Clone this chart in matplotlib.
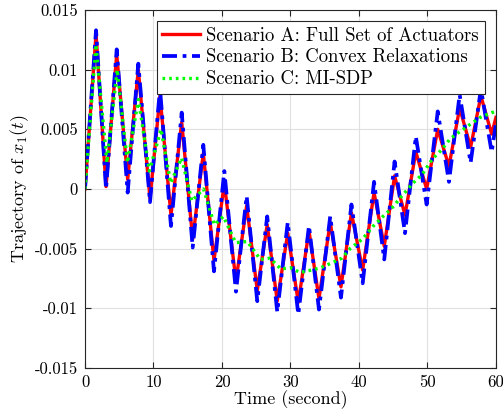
import matplotlib
matplotlib.use("Agg")
import matplotlib.pyplot as plt
import numpy as np

plt.rcParams['font.family'] = ['cmr10', 'DejaVu Serif']
plt.rcParams['mathtext.fontset'] = 'cm'
plt.rcParams['axes.unicode_minus'] = False
plt.rcParams['axes.formatter.use_mathtext'] = True

# ---- data ----
peak_t = [1.61, 4.63, 7.78, 10.95, 14.12, 17.27, 20.34, 23.6, 26.6, 29.6,
          32.7, 35.8, 38.9, 42.2, 45.2, 48.3, 51.5, 54.7, 57.8]
trough_t = [3.07, 6.23, 9.49, 12.55, 15.72, 18.83, 22.04, 25.15, 28.07, 31.14,
            34.16, 37.37, 40.54, 43.69, 46.72, 49.88, 53.14, 56.3, 59.37]

red_peaks = [0.0130, 0.0113, 0.0100, 0.0078, 0.0056, 0.0030, 0.0005, -0.0014, -0.0030, -0.0037,
             -0.0035, -0.0028, -0.0020, -0.0003, 0.0011, 0.0031, 0.0050, 0.0068, 0.0078]
red_troughs = [0.0002, 0.0008, -0.0008, -0.0022, -0.0042, -0.0060, -0.0077, -0.0085, -0.0094, -0.0095,
               -0.0092, -0.0082, -0.0068, -0.0048, -0.0022, 0.0000, 0.0019, 0.0035, 0.0046]
red_start, red_end = 0.0, 0.0060

blue_peaks = [0.0133, 0.0117, 0.0105, 0.0084, 0.0064, 0.0037, 0.0015, -0.0006, -0.0023, -0.0028,
              -0.0031, -0.0023, -0.0013, 0.0006, 0.0023, 0.0044, 0.0065, 0.0079, 0.0084]
blue_troughs = [0.0000, -0.0003, -0.0011, -0.0031, -0.0049, -0.0069, -0.0086, -0.0094, -0.0103, -0.0105,
                -0.0101, -0.0091, -0.0079, -0.0059, -0.0037, -0.0013, 0.0006, 0.0022, 0.0031]
blue_start, blue_end = 0.0, 0.0055

green_t = [0, 1.6, 3.2, 4.7, 6.2, 7.8, 9.4, 11.1, 12.5, 14.1, 15.6, 17.3, 18.9, 20.2, 22.0,
           23.7, 25.6, 27.0, 28.6, 30.0, 31.4, 33.0, 34.4, 36.0, 37.5, 38.7, 40.5, 42.1,
           43.5, 44.8, 46.4, 47.9, 49.2, 50.7, 52.1, 53.3, 54.7, 56.2, 57.7, 59.4, 60]
green_v = [0.0, 0.0121, 0.0022, 0.0100, 0.0022, 0.0075, 0.0015, 0.0050, 0.0005, 0.0026, -0.0010,
           0.0000, -0.0030, -0.0023, -0.0045, -0.0044, -0.0059, -0.0058, -0.0067, -0.0066,
           -0.0070, -0.0068, -0.0066, -0.0062, -0.0058, -0.0050, -0.0042, -0.0031, -0.0023,
           -0.0016, -0.0005, 0.0005, 0.0012, 0.0025, 0.0033, 0.0042, 0.0048, 0.0054, 0.0060,
           0.0064, 0.0065]

xticks = [0, 10, 20, 30, 40, 50, 60]
yticks = [-0.015, -0.01, -0.005, 0, 0.005, 0.01, 0.015]
ytick_labels = ['-0.015', '-0.01', '-0.005', '0', '0.005', '0.01', '0.015']


def interleave(start, peaks, troughs, end):
    t = [0.0]
    v = [start]
    for pt, pv, tt, tv in zip(peak_t, peaks, trough_t, troughs):
        t += [pt, tt]
        v += [pv, tv]
    t.append(60.0)
    v.append(end)
    return t, v


red_t, red_v = interleave(red_start, red_peaks, red_troughs, red_end)
blue_t, blue_v = interleave(blue_start, blue_peaks, blue_troughs, blue_end)

fig = plt.figure(figsize=(5.03, 4.16), dpi=100)
ax = fig.add_axes([0.169, 0.1154, 0.817, 0.8606])

ax.plot(red_t, red_v, color=(1, 0, 0), lw=2.4, ls='-',
        label='Scenario A: Full Set of Actuators')
ax.plot(blue_t, blue_v, color=(0, 0, 1), lw=2.7, ls=(0, (4, 1.5, 1, 1.5)),
        label='Scenario B: Convex Relaxations')
ax.plot(green_t, green_v, color=(0, 1, 0), lw=2.4, ls=(0, (0.8, 1.2)),
        label='Scenario C: MI-SDP')

ax.set_xlim(0, 60)
ax.set_ylim(-0.015, 0.015)
ax.set_xticks(xticks)
ax.set_xticklabels([str(x) for x in xticks])
ax.set_yticks(yticks)
ax.set_yticklabels(ytick_labels)
ax.grid(True, color=(0.88, 0.88, 0.88), lw=0.8)
ax.set_axisbelow(True)
ax.tick_params(direction='in', top=True, right=True, length=4, width=0.8,
               labelsize=12, colors=(0.15, 0.15, 0.15), labelcolor='black', pad=5)
for s in ax.spines.values():
    s.set_color((0.15, 0.15, 0.15))
    s.set_linewidth(0.8)

ax.set_xlabel('Time (second)', fontsize=13, labelpad=0)
ax.set_ylabel(r'Trajectory of $x_1(t)$', fontsize=13, labelpad=3)

leg = ax.legend(loc='upper right', fontsize=13.5, frameon=True, fancybox=False,
                framealpha=1, edgecolor=(0.15, 0.15, 0.15), handlelength=2.0,
                handletextpad=0.35, borderpad=0.3, labelspacing=0.2,
                borderaxespad=0.6)
leg.get_frame().set_linewidth(0.8)

fig.savefig('out.png', dpi=100)
